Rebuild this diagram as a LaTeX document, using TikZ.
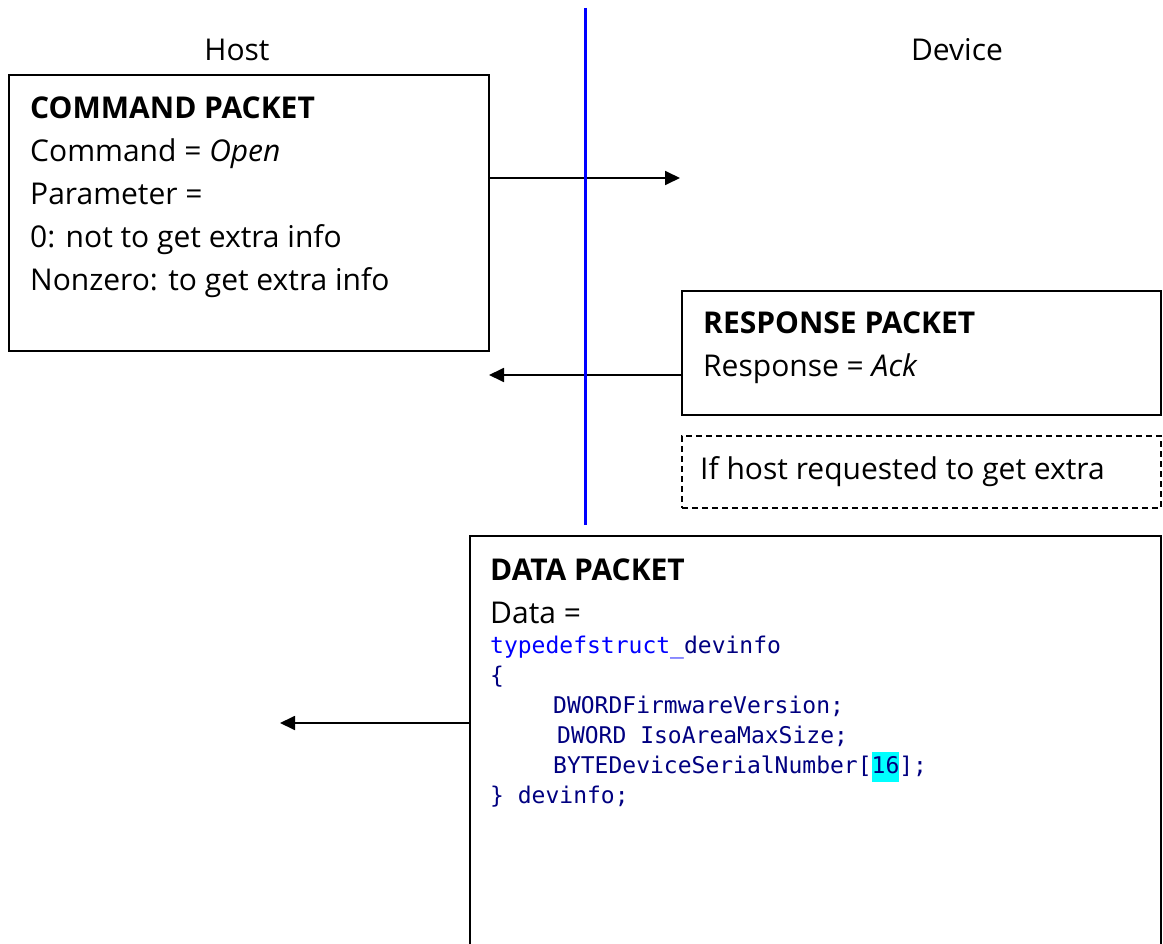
\documentclass[tikz,border=0pt]{standalone}
\usepackage{fontspec}
\setmainfont{Open Sans}
\newfontfamily\codefont{DejaVu Sans Mono}
\usepackage{tikz}
\usetikzlibrary{arrows.meta,positioning}
\definecolor{codeblue}{RGB}{0,0,255}
\definecolor{codenavy}{RGB}{0,0,128}
\definecolor{hilite}{RGB}{0,255,255}

\begin{document}
\begin{tikzpicture}[
  x=1pt, y=1pt,
  frame/.style={draw, line width=1.6pt, anchor=north west, inner sep=0pt},
  txt/.style={anchor=north west, inner sep=0pt, align=left, font=\fontsize{30}{43}\selectfont},
  code/.style={anchor=north west, inner sep=0pt, align=left, text=codenavy, font=\codefont\fontsize{23}{30}\selectfont},
  arrow/.style={-{Triangle[length=15pt, width=14pt]}, line width=1.8pt}
]
\useasboundingbox (0,0) rectangle (1163,-944);
\clip (0,0) rectangle (1163,-944);

% Sides
\node[font=\fontsize{30}{36}\selectfont] (host) at (237,-50) {Host};
\node[font=\fontsize{30}{36}\selectfont] (device) at (957,-50) {Device};

% Command packet
\node[frame, minimum width=480pt, minimum height=276pt] (cmd) at (8,-74) {};
\node[txt] (cmdtxt) at ([shift={(22,-23)}]cmd.north west) {\textbf{COMMAND PACKET}\\Command = \textit{Open}\\Parameter =\\0: not to get extra info\\Nonzero: to get extra info};

% Response packet
\node[frame, minimum width=479pt, minimum height=124pt] (resp) at (681,-290) {};
\node[txt] (resptxt) at ([shift={(22,-22)}]resp.north west) {\textbf{RESPONSE PACKET}\\Response = \textit{Ack}};

% Condition
\node[frame, dash pattern=on 6pt off 4pt, minimum width=479pt, minimum height=72pt] (cond) at (681,-435) {};
\node[txt, anchor=west] (condtxt) at ([xshift=19pt]cond.west) {If host requested to get extra};

% Data packet
\node[frame, minimum width=691pt, minimum height=500pt] (data) at (469,-535) {};
\node[txt] (datatxt) at ([shift={(21,-24)}]data.north west) {\textbf{DATA PACKET}\\Data =};
\node[code] (datacode) at ([yshift=-11pt]datatxt.south west) {%
  \textcolor{codeblue}{typedefstruct\_}devinfo\\
  \{\\
  \hspace*{63pt}DWORDFirmwareVersion;\\
  \hspace*{67pt}DWORD IsoAreaMaxSize;\\
  \hspace*{63pt}BYTEDeviceSerialNumber[{\fboxsep=0pt\colorbox{hilite}{\strut 16}}];\\
  \} devinfo;};

% Messages
\coordinate (cmdout) at (680,-178);
\coordinate (respin) at (489,-375);
\coordinate (datain) at (280,-723);
\draw[arrow] (cmd.east |- cmdout) -- (cmdout);
\draw[arrow] (resp.west |- respin) -- (respin);
\draw[arrow] (data.west |- datain) -- (datain);

% Divider
\coordinate (midtop) at (585,-8);
\coordinate (midbot) at (585,-525);
\draw[blue, line width=3pt] (midtop) -- (midbot);

\end{tikzpicture}
\end{document}
